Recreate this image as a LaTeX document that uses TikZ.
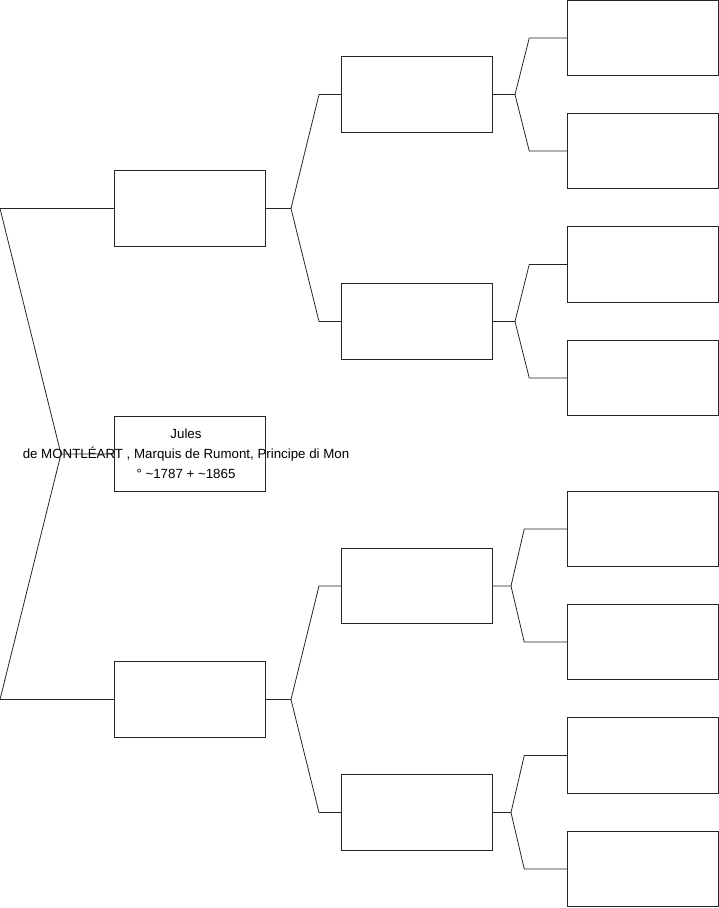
\documentclass[tikz,border=0pt]{standalone}
\usepackage{fontspec}
\setmainfont{Liberation Sans}
\tikzset{
  person/.style={draw=black!85, line width=0.8pt, minimum width=151pt, minimum height=75.5pt, inner sep=0pt, outer sep=0pt},
  link/.style={draw=black!85, line width=0.8pt},
  persontext/.style={align=center, font=\fontsize{13.3}{20}\selectfont, inner sep=0pt}
}
\begin{document}
\begin{tikzpicture}[x=1pt, y=-1pt]
\useasboundingbox (0,0) rectangle (719,908);

% Person
\node[person] (p) at (189.5,454) {};
\node[persontext] (ptext) at (186,453.5) {Jules\\de MONTLÉART , Marquis de Rumont, Principe di Mon\\° \textasciitilde1787 + \textasciitilde1865};

% Parents
\node[person] (f) at (189.5,208.5) {};
\node[person] (m) at (189.5,699.5) {};

% Grandparents
\node[person] (ff) at (416.5,94.5) {};
\node[person] (fm) at (416.5,321.5) {};
\node[person] (mf) at (416.5,586) {};
\node[person] (mm) at (416.5,812.5) {};

% Great-grandparents
\node[person] (fff) at (642.75,38) {};
\node[person] (ffm) at (642.75,151) {};
\node[person] (fmf) at (642.75,264.5) {};
\node[person] (fmm) at (642.75,378) {};
\node[person] (mff) at (642.75,529) {};
\node[person] (mfm) at (642.75,642) {};
\node[person] (mmf) at (642.75,755.5) {};
\node[person] (mmm) at (642.75,869) {};

% Person -> parents
\coordinate (j) at (61,454);
\draw[link] (p.west) -- (j) -- (0,208.5) -- (f.west);
\draw[link] (j) -- (0,699.5) -- (m.west);

% Parents -> grandparents
\draw[link] (f.east) -- ++(26,0) coordinate (jf) -- ([xshift=-22pt]ff.west) -- (ff.west);
\draw[link] (jf) -- ([xshift=-22pt]fm.west) -- (fm.west);
\draw[link] (m.east) -- ++(26,0) coordinate (jm) -- ([xshift=-22pt]mf.west) -- (mf.west);
\draw[link] (jm) -- ([xshift=-22pt]mm.west) -- (mm.west);

% Grandparents -> great-grandparents
\draw[link] (ff.east) -- ++(23,0) coordinate (jff) -- ([xshift=-38pt]fff.west) -- (fff.west);
\draw[link] (jff) -- ([xshift=-38pt]ffm.west) -- (ffm.west);
\draw[link] (fm.east) -- ++(23,0) coordinate (jfm) -- ([xshift=-38pt]fmf.west) -- (fmf.west);
\draw[link] (jfm) -- ([xshift=-38pt]fmm.west) -- (fmm.west);
\draw[link] (mf.east) -- ++(19,0) coordinate (jmf) -- ([xshift=-43pt]mff.west) -- (mff.west);
\draw[link] (jmf) -- ([xshift=-43pt]mfm.west) -- (mfm.west);
\draw[link] (mm.east) -- ++(19,0) coordinate (jmm) -- ([xshift=-43pt]mmf.west) -- (mmf.west);
\draw[link] (jmm) -- ([xshift=-43pt]mmm.west) -- (mmm.west);

\end{tikzpicture}
\end{document}
